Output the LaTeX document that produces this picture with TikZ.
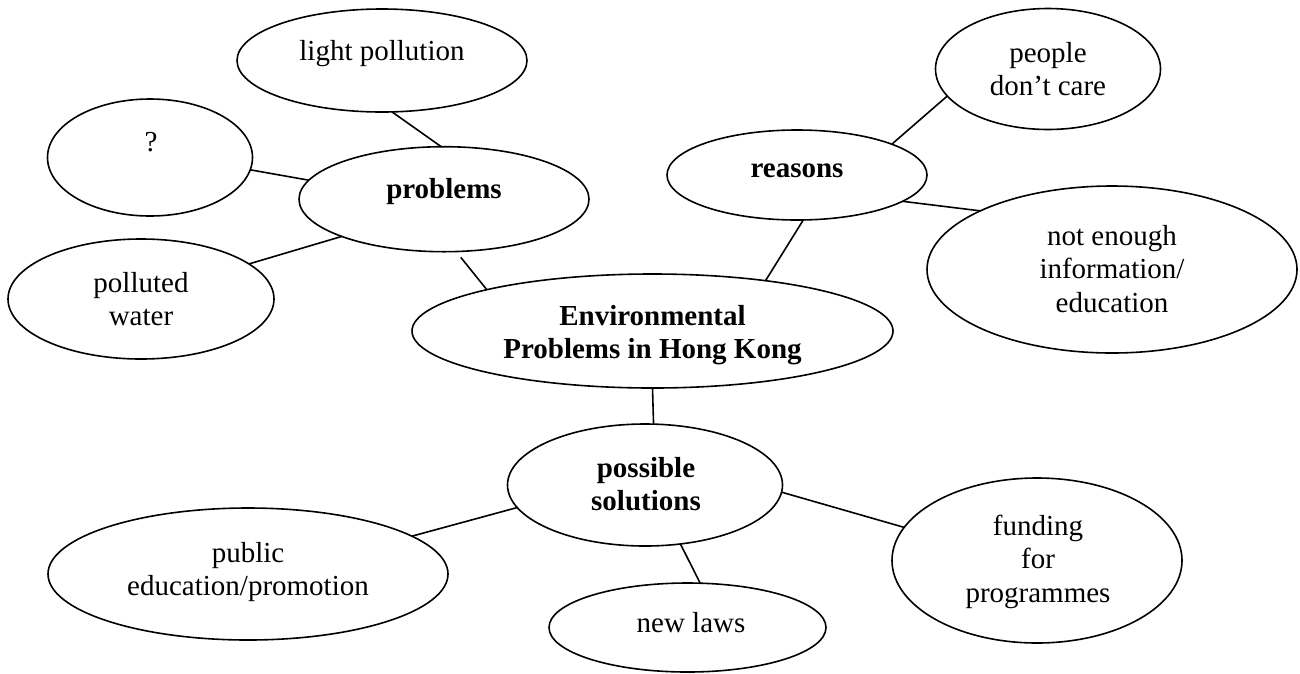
\documentclass[tikz,border=0pt]{standalone}
\usepackage{fontspec}
\setmainfont{Liberation Serif}
\usetikzlibrary{shapes.geometric}
\newcommand\mlines[1]{\setlength{\tabcolsep}{0pt}\begin{tabular}[t]{c}#1\end{tabular}}
\begin{document}
\begin{tikzpicture}[x=1pt,y=-1pt,
  ell/.style={draw, ellipse, line width=1.6pt, inner sep=0pt, outer sep=0pt},
  con/.style={line width=1.6pt},
  lbl/.style={anchor=base, inner sep=0pt, font=\fontsize{29}{33.5}\selectfont},
  blbl/.style={anchor=base, inner sep=0pt, font=\fontsize{29}{33.5}\selectfont\bfseries}]
\useasboundingbox (0,0) rectangle (1300,673);

\node[ell, minimum width=290pt, minimum height=103pt] (lp) at (382,60.5) {};
\node[lbl] (lpt) at (382,60) {light pollution};

\node[ell, minimum width=205pt, minimum height=117pt] (q) at (150,157.5) {};
\node[lbl] (qt) at (151,151) {?};

\node[ell, minimum width=290pt, minimum height=105pt] (pr) at (444,199.2) {};
\node[blbl] (prt) at (444,198) {problems};

\node[ell, minimum width=266pt, minimum height=120pt] (pw) at (141,299) {};
\node[lbl] (pwt) at (141,292) {\mlines{polluted\\water}};

\node[ell, minimum width=481pt, minimum height=114pt] (ctr) at (652.5,331) {};
\node[blbl] (ctrt) at (652.5,325) {\mlines{Environmental\\Problems in Hong Kong}};

\node[ell, minimum width=260pt, minimum height=90pt] (rs) at (797,175) {};
\node[blbl] (rst) at (797,177) {reasons};

\node[ell, minimum width=225pt, minimum height=121pt] (pdc) at (1048,69) {};
\node[lbl] (pdct) at (1048,62) {\mlines{people\\don’t care}};

\node[ell, minimum width=370pt, minimum height=167pt] (ne) at (1112,269.5) {};
\node[lbl] (net) at (1112,245) {\mlines{not enough\\information/\\education}};

\node[ell, minimum width=275pt, minimum height=122pt] (ps) at (645,485) {};
\node[blbl] (pst) at (646,477) {\mlines{possible\\solutions}};

\node[ell, minimum width=400pt, minimum height=132pt] (pub) at (248,574) {};
\node[lbl] (pubt) at (248,562) {\mlines{public\\education/promotion}};

\node[ell, minimum width=277pt, minimum height=89pt] (nl) at (687.5,627.5) {};
\node[lbl] (nlt) at (691,632) {new laws};

\node[ell, minimum width=290pt, minimum height=165pt] (fund) at (1037,560.5) {};
\node[lbl] (fundt) at (1038,535) {\mlines{funding\\for\\programmes}};

\draw[con] (lp.-79) -- (pr.93);
\draw[con] (q.-7.5) -- (pr.172);
\draw[con] (pw.18) -- (pr.200);
\draw[con, shorten <=7.5pt] (pr.-77.6) -- (ctr.166);
\draw[con] (rs.-82) -- (ctr.24.5);
\draw[con] (rs.18.6) -- (pdc.195.6);
\draw[con] (rs.-14.4) -- (ne.156.8);
\draw[con] (ctr.-90) -- (ps.82.5);
\draw[con] (ps.190) -- (pub.13);
\draw[con] (ps.-59.3) -- (nl.74.3);
\draw[con] (ps.-3.3) -- (fund.166.8);
\end{tikzpicture}
\end{document}
